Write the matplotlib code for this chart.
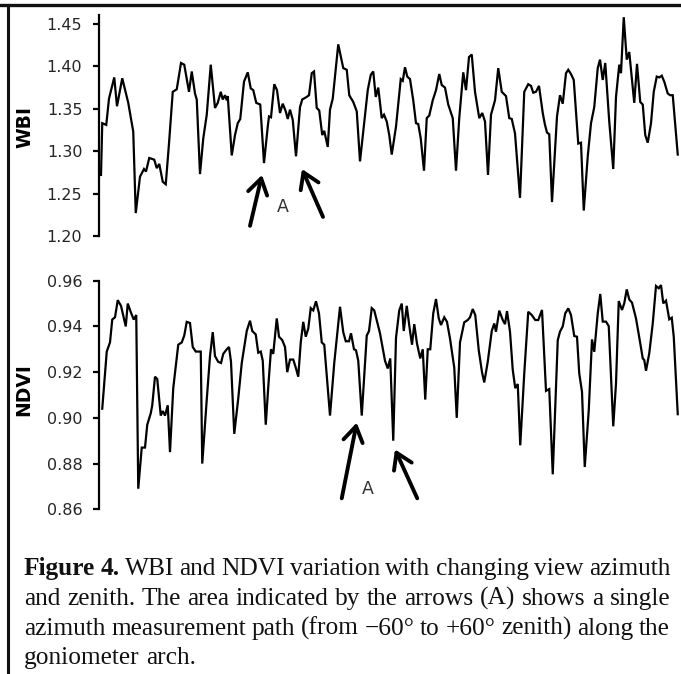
import matplotlib
matplotlib.use("Agg")
import matplotlib.pyplot as plt
from matplotlib.lines import Line2D

# ---------------- data ----------------
wbi_idx = [0.4, 0.9, 2.5, 3.6, 5.7, 6.8, 8.9, 11.3, 13.3, 14.3, 16.0, 17.6, 18.4, 19.7, 21.7, 22.7,
           23.7, 25.1, 26.3, 27.6, 29.1, 30.7, 32.4, 33.7, 35.6, 36.7, 38.0, 38.7, 40.0, 41.3, 42.7,
           44.3, 46.0, 47.1, 48.3, 49.1, 50.0, 50.7, 51.1, 52.7, 54.0, 55.1, 56.1, 57.6, 59.1, 60.3,
           61.3, 62.5, 64.1, 65.6, 67.1, 67.6, 68.4, 69.7, 70.8, 72.0, 73.1, 74.3, 75.1, 76.0, 77.1,
           78.4, 80.0, 80.9, 82.7, 83.6, 84.7, 85.6, 86.7, 87.7, 88.9, 89.7, 91.1, 92.0, 93.1, 95.3,
           97.3, 98.7, 99.7, 101.3, 102.7, 104.0, 105.6, 107.1, 108.3, 109.3, 110.3, 111.3, 112.7,
           113.6, 114.7, 115.7, 116.7, 118.4, 120.3, 121.1, 122.0, 122.9, 124.0, 125.3, 126.4, 127.3,
           128.3, 129.6, 130.7, 131.7, 133.1, 134.4, 135.7, 136.7, 138.0, 139.3, 141.1, 142.4, 143.7,
           145.3, 146.4, 147.6, 148.7, 150.0, 151.7, 152.9, 154.0, 155.2, 156.4, 158.0, 159.3, 160.7,
           162.4, 163.7, 164.7, 166.0, 168.0, 169.7, 171.3, 172.4, 173.3, 174.4, 175.6, 177.1, 178.0,
           178.8, 179.7, 180.8, 182.8, 184.0, 185.1, 186.4, 187.3, 188.4, 189.5, 191.3, 192.4, 193.5,
           195.1, 196.4, 197.7, 199.1, 200.0, 201.1, 202.1, 203.7, 205.3, 206.4, 207.7, 208.4, 209.5,
           210.7, 211.7, 213.7, 214.8, 216.1, 217.1, 218.1, 219.1, 220.4, 221.5, 222.7, 223.7, 224.7,
           225.7, 227.1, 228.1, 229.1, 231.1]
wbi_val = [1.272, 1.333, 1.331, 1.362, 1.387, 1.353, 1.386, 1.357, 1.323, 1.227, 1.270, 1.279, 1.276,
           1.292, 1.290, 1.280, 1.285, 1.264, 1.261, 1.309, 1.370, 1.373, 1.404, 1.402, 1.370, 1.394,
           1.368, 1.361, 1.273, 1.315, 1.343, 1.402, 1.351, 1.357, 1.370, 1.361, 1.366, 1.360, 1.365,
           1.295, 1.319, 1.333, 1.338, 1.382, 1.393, 1.374, 1.372, 1.357, 1.355, 1.286, 1.329, 1.341,
           1.340, 1.379, 1.372, 1.345, 1.356, 1.347, 1.338, 1.349, 1.337, 1.294, 1.352, 1.361, 1.364,
           1.366, 1.392, 1.394, 1.351, 1.348, 1.319, 1.324, 1.305, 1.349, 1.362, 1.426, 1.398, 1.396,
           1.366, 1.358, 1.347, 1.288, 1.331, 1.372, 1.390, 1.394, 1.364, 1.375, 1.339, 1.343, 1.335,
           1.319, 1.296, 1.329, 1.385, 1.383, 1.399, 1.388, 1.385, 1.360, 1.333, 1.332, 1.315, 1.277,
           1.339, 1.342, 1.360, 1.372, 1.391, 1.378, 1.375, 1.355, 1.339, 1.277, 1.339, 1.393, 1.372,
           1.411, 1.414, 1.370, 1.339, 1.345, 1.335, 1.272, 1.343, 1.360, 1.398, 1.370, 1.365, 1.339,
           1.338, 1.321, 1.245, 1.370, 1.379, 1.377, 1.369, 1.370, 1.377, 1.345, 1.331, 1.322, 1.320,
           1.240, 1.341, 1.366, 1.356, 1.392, 1.396, 1.391, 1.384, 1.309, 1.310, 1.230, 1.294, 1.333,
           1.352, 1.398, 1.408, 1.384, 1.404, 1.335, 1.279, 1.364, 1.402, 1.392, 1.458, 1.408, 1.417,
           1.357, 1.403, 1.358, 1.355, 1.319, 1.310, 1.333, 1.370, 1.388, 1.387, 1.389, 1.382, 1.368,
           1.366, 1.366, 1.296]

ndvi_idx = [0.9, 2.7, 4.0, 4.9, 6.0, 7.1, 8.4, 10.3, 11.1, 12.4, 13.5, 14.5, 15.3, 16.7, 18.0, 18.9,
            20.3, 20.9, 22.0, 22.9, 24.3, 25.1, 26.0, 27.1, 28.0, 29.3, 31.3, 32.7, 33.7, 34.7, 36.0,
            37.1, 38.3, 40.3, 40.9, 42.7, 44.0, 45.1, 46.0, 47.3, 48.4, 49.3, 50.7, 51.6, 52.4, 53.7,
            55.3, 56.7, 58.7, 60.0, 60.9, 62.3, 63.3, 64.3, 65.1, 66.3, 67.3, 68.4, 69.3, 70.7, 71.6,
            72.9, 74.0, 74.9, 76.0, 77.3, 78.3, 79.3, 80.3, 81.3, 82.3, 83.3, 84.3, 85.3, 86.4, 87.6,
            88.7, 89.7, 92.0, 93.7, 96.0, 97.3, 98.3, 99.6, 100.4, 101.6, 102.4, 103.3, 104.7, 106.7,
            107.6, 108.7, 109.7, 112.0, 114.0, 115.1, 116.1, 117.3, 118.4, 119.7, 120.7, 121.5, 122.7,
            123.7, 124.8, 125.7, 126.8, 128.1, 129.1, 130.1, 131.1, 132.1, 133.3, 134.4, 135.5, 136.4,
            137.7, 138.8, 140.0, 141.7, 142.7, 144.0, 145.7, 147.1, 148.0, 149.1, 150.1, 151.5, 152.8,
            153.7, 155.1, 156.7, 157.7, 158.4, 159.7, 161.1, 162.0, 162.8, 164.0, 165.1, 166.1, 167.1,
            168.1, 169.7, 171.3, 172.7, 174.1, 175.3, 176.8, 178.4, 179.7, 181.1, 183.1, 184.0, 185.1,
            186.1, 187.3, 188.4, 189.7, 190.8, 191.7, 192.8, 193.9, 195.5, 196.8, 197.7, 199.1, 200.1,
            201.1, 202.4, 203.5, 205.3, 206.4, 207.5, 208.8, 209.7, 210.7, 211.7, 212.8, 214.4, 216.0,
            217.1, 217.7, 218.4, 219.7, 221.1, 222.4, 223.5, 224.4, 225.3, 226.4, 227.7, 228.7, 229.5,
            231.1]
ndvi_val = [0.904, 0.929, 0.933, 0.943, 0.944, 0.9515, 0.949, 0.940, 0.950, 0.946, 0.943, 0.945,
            0.869, 0.887, 0.887, 0.897, 0.902, 0.9055, 0.918, 0.917, 0.901, 0.903, 0.901, 0.9055,
            0.885, 0.913, 0.932, 0.933, 0.936, 0.942, 0.9415, 0.931, 0.929, 0.929, 0.880, 0.908,
            0.927, 0.9375, 0.927, 0.9245, 0.924, 0.928, 0.930, 0.931, 0.9245, 0.893, 0.9085, 0.924,
            0.938, 0.9425, 0.938, 0.9365, 0.9285, 0.929, 0.925, 0.897, 0.9135, 0.930, 0.928, 0.9435,
            0.9355, 0.934, 0.931, 0.920, 0.9255, 0.9255, 0.922, 0.918, 0.933, 0.942, 0.9355, 0.939,
            0.948, 0.947, 0.951, 0.9457, 0.933, 0.932, 0.901, 0.924, 0.9486, 0.9375, 0.9335, 0.9335,
            0.937, 0.930, 0.9296, 0.925, 0.901, 0.936, 0.938, 0.948, 0.947, 0.937, 0.925, 0.9216,
            0.926, 0.890, 0.935, 0.947, 0.950, 0.938, 0.949, 0.9405, 0.932, 0.941, 0.9325, 0.926,
            0.930, 0.908, 0.930, 0.930, 0.9457, 0.952, 0.9435, 0.9406, 0.944, 0.942, 0.9347, 0.922,
            0.900, 0.933, 0.9418, 0.9428, 0.944, 0.9476, 0.945, 0.9296, 0.920, 0.9155, 0.9245, 0.938,
            0.9413, 0.9377, 0.9469, 0.9428, 0.941, 0.9467, 0.9377, 0.921, 0.913, 0.9148, 0.888,
            0.9194, 0.9464, 0.945, 0.9428, 0.9428, 0.9472, 0.9118, 0.9126, 0.8753, 0.934, 0.9377,
            0.940, 0.9457, 0.9479, 0.945, 0.9358, 0.9355, 0.9194, 0.9114, 0.8785, 0.9033, 0.9343,
            0.9289, 0.9457, 0.9542, 0.9421, 0.9421, 0.9401, 0.8963, 0.915, 0.9511, 0.9472, 0.9501,
            0.9562, 0.9518, 0.9504, 0.9435, 0.9333, 0.926, 0.9253, 0.9206, 0.9282, 0.9413, 0.9577,
            0.9567, 0.9581, 0.9501, 0.9513, 0.9431, 0.9438, 0.9355, 0.9016]

wbi_ticks = [1.20, 1.25, 1.30, 1.35, 1.40, 1.45]
ndvi_ticks = [0.86, 0.88, 0.90, 0.92, 0.94, 0.96]

caption_lines = [
    [("Figure", "bold"), ("4.", "bold"), ("WBI", "normal"), ("and", "normal"), ("NDVI", "normal"),
     ("variation", "normal"), ("with", "normal"), ("changing", "normal"), ("view", "normal"),
     ("azimuth", "normal")],
    [(w, "normal") for w in "and zenith. The area indicated by the arrows (A) shows a single".split()],
    [(w, "normal") for w in "azimuth measurement path (from \u221260\u00b0 to +60\u00b0 zenith) along the".split()],
    [(w, "normal") for w in "goniometer arch.".split()],
]

# ---------------- figure ----------------
W, H = 681, 674
fig = plt.figure(figsize=(W / 100, H / 100), dpi=100)
fig.patch.set_facecolor("white")

TICK_COLOR = "#262626"


def style_axis(ax, ticks, fmt):
    for s in ("top", "right", "bottom"):
        ax.spines[s].set_visible(False)
    ax.spines["left"].set_linewidth(1.6)
    ax.spines["left"].set_color("black")
    ax.set_xticks([])
    ax.set_yticks(ticks)
    ax.set_yticklabels([fmt % t for t in ticks], fontsize=11.5, color=TICK_COLOR)
    ax.tick_params(axis="y", direction="out", length=4, width=1.6, pad=8, colors="black",
                   labelcolor=TICK_COLOR)
    ax.set_xlim(-0.4, 231.6)
    ax.set_facecolor("none")


# WBI panel
ax1 = fig.add_axes([99 / W, 1 - 236 / H, 580 / W, 221 / H])
ax1.plot(wbi_idx, wbi_val, color="black", lw=1.6, solid_joinstyle="miter")
style_axis(ax1, wbi_ticks, "%.2f")
ax1.set_ylim(1.20, 1.4606)
ax1.set_ylabel("WBI", fontsize=13.5, fontweight="bold")
ax1.yaxis.set_label_coords(-0.112, 0.493)

# NDVI panel
ax2 = fig.add_axes([99 / W, 1 - 509.3 / H, 580 / W, 228.6 / H])
ax2.plot(ndvi_idx, ndvi_val, color="black", lw=1.6, solid_joinstyle="miter")
style_axis(ax2, ndvi_ticks, "%.2f")
ax2.set_ylim(0.86, 0.96)
ax2.set_ylabel("NDVI", fontsize=13.5, fontweight="bold")
ax2.yaxis.set_label_coords(-0.114, 0.522)

arrow_kw = dict(arrowstyle="->,head_length=0.55,head_width=0.35", lw=2.8, color="black",
                mutation_scale=20, shrinkA=0, shrinkB=0)
# arrows + "A" labels (annotations)
ax1.annotate("", xy=(64.8, 1.272), xytext=(60.0, 1.212), arrowprops=arrow_kw, annotation_clip=False)
ax1.annotate("", xy=(80.8, 1.279), xytext=(89.2, 1.2225), arrowprops=arrow_kw, annotation_clip=False)
ax1.text(73.2, 1.234, "A", fontsize=12.5, ha="center", va="center", color="#333333")

ax2.annotate("", xy=(102.7, 0.8979), xytext=(96.7, 0.8648), arrowprops=arrow_kw, annotation_clip=False)
ax2.annotate("", xy=(118.0, 0.8862), xytext=(126.9, 0.8648), arrowprops=arrow_kw, annotation_clip=False)
ax2.text(107.1, 0.8687, "A", fontsize=12.5, ha="center", va="center", color="#333333")

# frame lines (top and left)
fig.add_artist(Line2D([0, 1], [1 - 5 / H, 1 - 5 / H], transform=fig.transFigure, color="#111111", lw=2.4))
fig.add_artist(Line2D([8 / W, 8 / W], [0, 1 - 5 / H], transform=fig.transFigure, color="#111111", lw=2.2))

# ---------------- caption (justified) ----------------
fig.canvas.draw()
renderer = fig.canvas.get_renderer()
cap_left, cap_right = 24, 670
baselines = [575, 605, 635, 664]
cap_font = dict(family="Liberation Serif", fontsize=18.3, color="#111111")
for li, (words, base) in enumerate(zip(caption_lines, baselines)):
    texts = [fig.text(0, 1 - base / H, w, fontweight=wt, va="baseline", ha="left", **cap_font)
             for w, wt in words]
    widths = [t.get_window_extent(renderer).width for t in texts]
    justify = li < len(caption_lines) - 1
    if justify and len(texts) > 1:
        gap = (cap_right - cap_left - sum(widths)) / (len(texts) - 1)
    else:
        gap = 0.25 * 18.3 * 100 / 72
    x = cap_left
    for t, w in zip(texts, widths):
        t.set_x(x / W)
        x += w + gap

fig.savefig("out.png", dpi=100, facecolor="white")
